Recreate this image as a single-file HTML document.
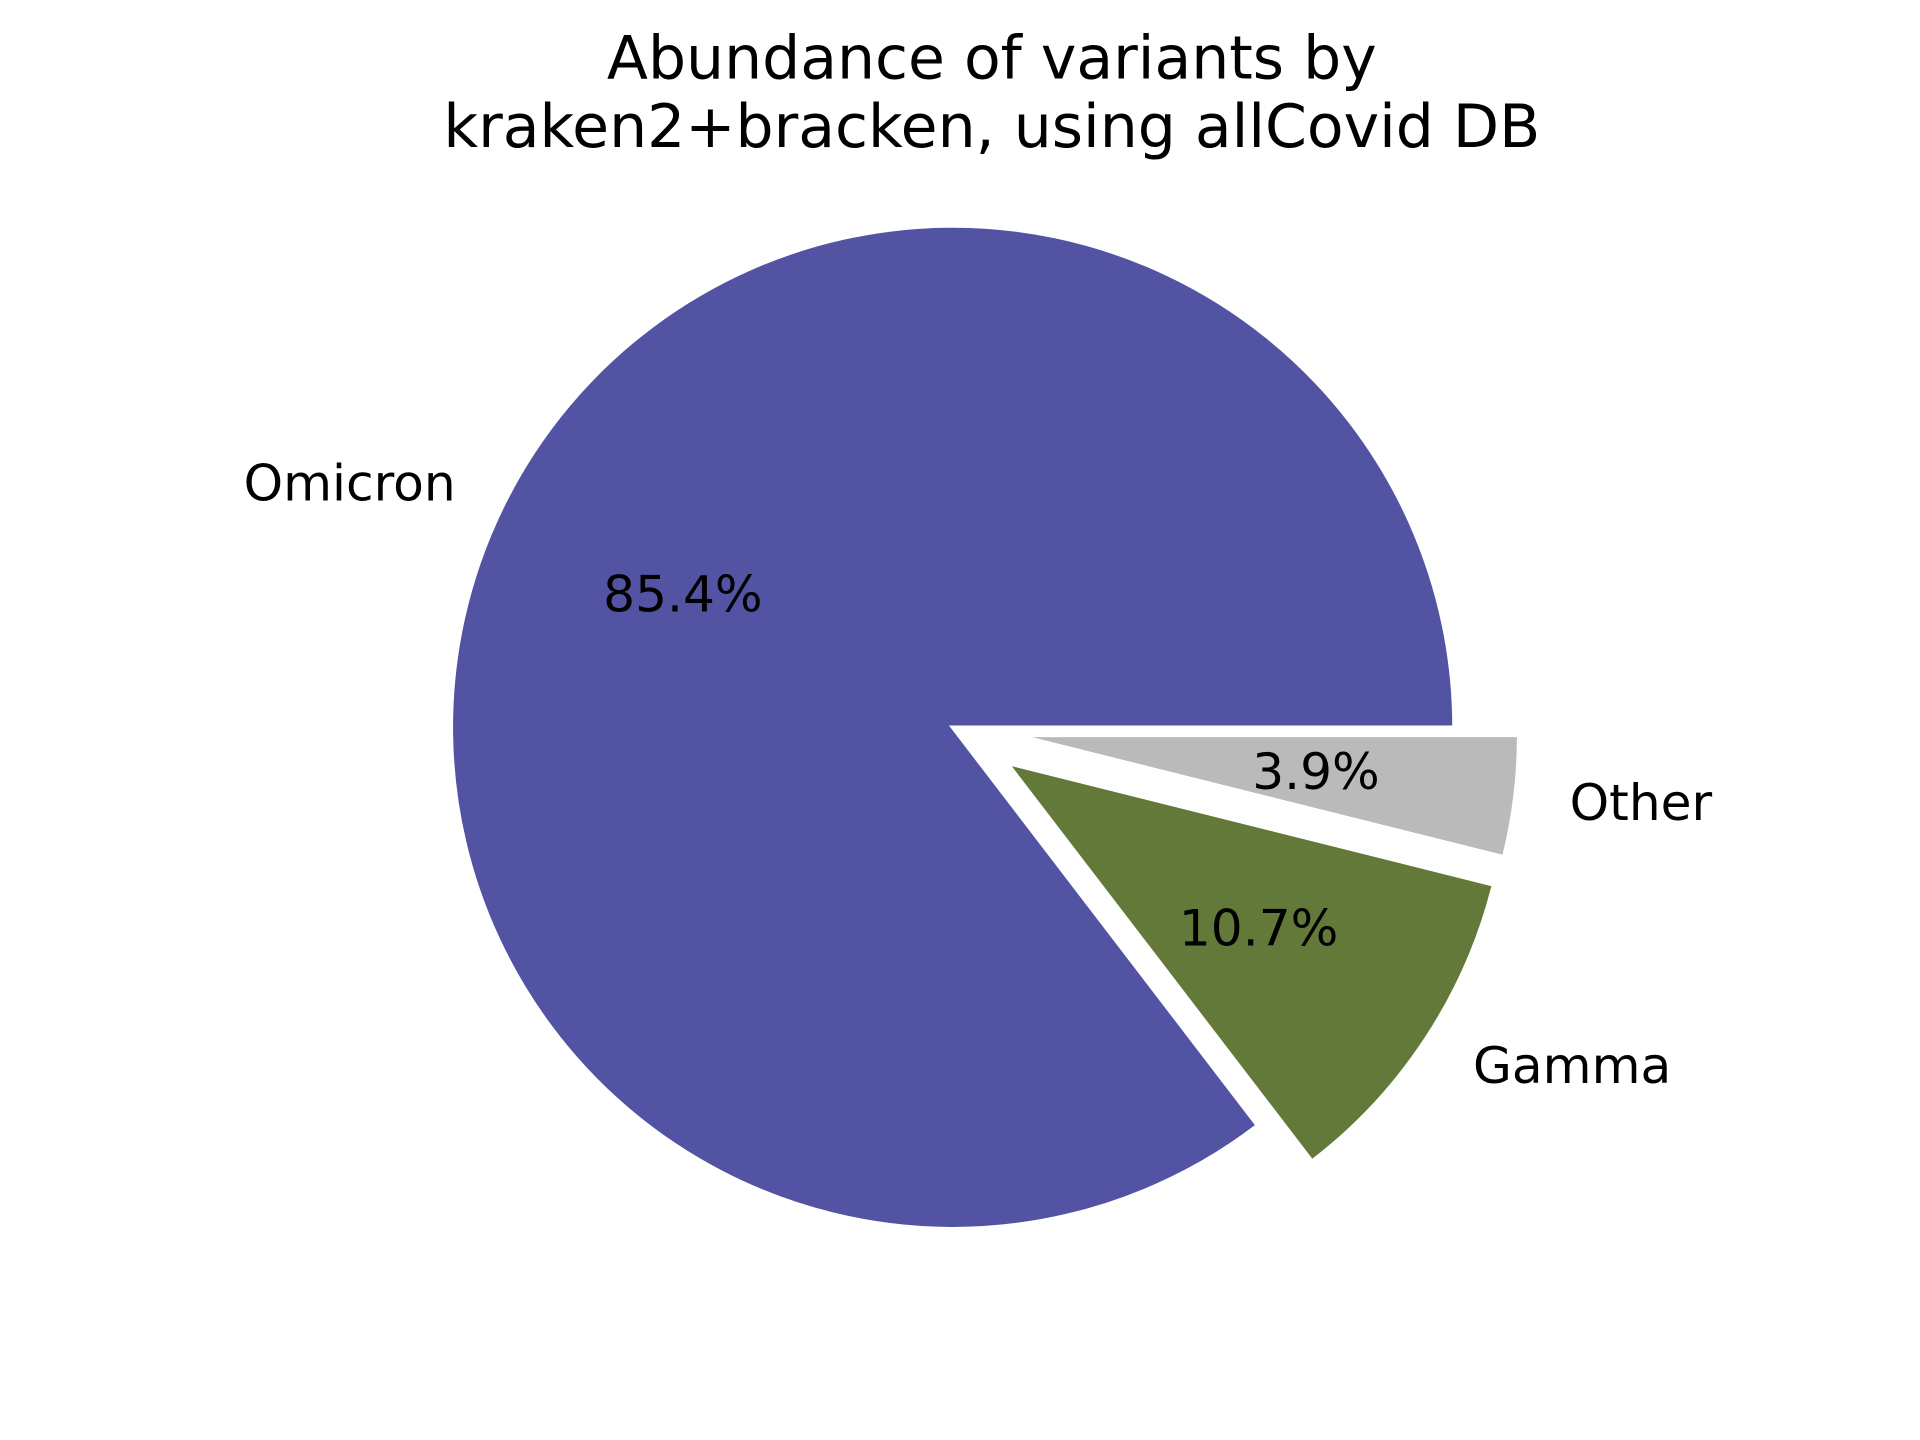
<!DOCTYPE html>
<html><head><meta charset="utf-8"><style>html,body{margin:0;padding:0;background:#fff}svg{display:block}</style></head>
<body>
<svg id="chart" width="1920" height="1440" viewBox="0 0 1568 1176" xmlns="http://www.w3.org/2000/svg" font-family="'DejaVu Sans','Liberation Sans',sans-serif">
<text x="810" y="64" font-size="49" text-anchor="middle">Abundance of variants by</text>
<text x="810" y="120" font-size="49" text-anchor="middle">kraken2+bracken, using allCovid DB</text>
<g id="pie"></g>
</svg>
<script>
const categories = ["Omicron", "Gamma", "Other"];
const values = [85.4, 10.7, 3.9];
const pctLabels = ["85.4%", "10.7%", "3.9%"];
const explodeArr = [0, 0.13, 0.13];
const colors = ["#5254a3", "#637939", "#bababa"];
const cx = 778, cy = 594, R = 409.5;
const g = document.getElementById('pie');
const NS = "http://www.w3.org/2000/svg";
const total = values.reduce((a,b)=>a+b,0);
let a0 = 0;
values.forEach((v,i)=>{
  const a1 = a0 + v/total*360;
  const mid = (a0+a1)/2*Math.PI/180;
  const dx = Math.cos(mid), dy = -Math.sin(mid);
  const ox = cx + dx*explodeArr[i]*R, oy = cy + dy*explodeArr[i]*R;
  const p0 = [ox+R*Math.cos(a0*Math.PI/180), oy-R*Math.sin(a0*Math.PI/180)];
  const p1 = [ox+R*Math.cos(a1*Math.PI/180), oy-R*Math.sin(a1*Math.PI/180)];
  const large = (a1-a0)>180?1:0;
  const path = document.createElementNS(NS,'path');
  path.setAttribute('d',`M${ox},${oy} L${p0[0]},${p0[1]} A${R},${R} 0 ${large} 0 ${p1[0]},${p1[1]} Z`);
  path.setAttribute('fill',colors[i]);
  path.setAttribute('stroke','#fff');
  path.setAttribute('stroke-width','3');
  
  
  g.appendChild(path);
  const lr = 1.1*R;
  const lx = ox+dx*lr, ly = oy+dy*lr;
  const t = document.createElementNS(NS,'text');
  t.textContent = categories[i];
  t.setAttribute('x',lx + (dx<0?-2:4)); t.setAttribute('y',ly+14);
  t.setAttribute('font-size','41');
  t.setAttribute('text-anchor', dx<0?'end':'start');
  
  
  g.appendChild(t);
  const pr = 0.6*R;
  const px = ox+dx*pr, py = oy+dy*pr;
  const t2 = document.createElementNS(NS,'text');
  t2.textContent = pctLabels[i];
  t2.setAttribute('x',px); t2.setAttribute('y',py+14);
  t2.setAttribute('font-size','41');
  t2.setAttribute('text-anchor','middle');
  
  
  g.appendChild(t2);
  a0 = a1;
});
</script>
</body></html>
